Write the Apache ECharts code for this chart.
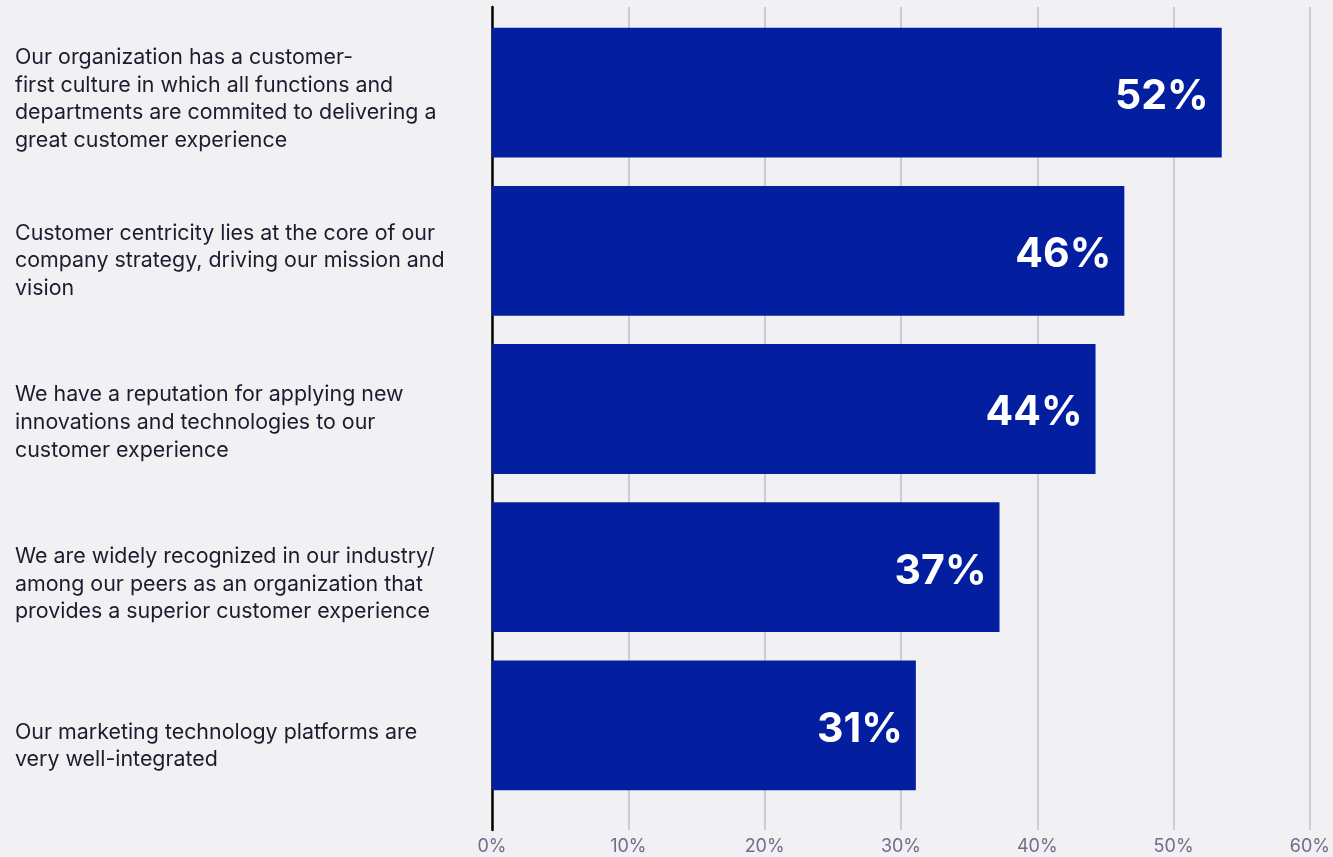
<!DOCTYPE html>
<html>
<head>
<meta charset="utf-8">
<style>
html,body{margin:0;padding:0;background:#f1f1f4;}
#chart{width:1333px;height:857px;}
</style>
<script src="https://cdn.jsdelivr.net/npm/echarts@6/dist/echarts.min.js"></script>
</head>
<body>
<div id="chart"></div>
<script>
const categories = [
  "Our organization has a customer-\nfirst culture in which all functions and\ndepartments are commited to delivering a\ngreat customer experience",
  "Customer centricity lies at the core of our\ncompany strategy, driving our mission and\nvision",
  "We have a reputation for applying new\ninnovations and technologies to our\ncustomer experience",
  "We are widely recognized in our industry/\namong our peers as an organization that\nprovides a superior customer experience",
  "Our marketing technology platforms are\nvery well-integrated"
];
const values = [53.2, 46.1, 44.0, 37.0, 30.9];
const valueLabels = ["52%", "46%", "44%", "37%", "31%"];
const xTicks = [0, 10, 20, 30, 40, 50, 60];

const FONT = "Inter, 'Open Sans', sans-serif";
const chart = echarts.init(document.getElementById('chart'), null, {renderer: 'canvas'});
chart.setOption({
  backgroundColor: '#f1f1f4',
  animation: false,
  grid: [
    {left: 492, right: 18, top: 7, bottom: 27},
    {left: 492, right: 18, top: 13.4, bottom: 52.4},
    {left: 492, right: 18, top: 18.2, bottom: 30}
  ],
  xAxis: [
    {
      gridIndex: 0, type: 'value', min: xTicks[0], max: xTicks[xTicks.length - 1], interval: 10,
      axisLine: {show: false}, axisTick: {show: false},
      splitLine: {show: true, lineStyle: {color: '#bebecb', width: 1.5}},
      axisLabel: {formatter: '{value}%', color: '#6e6e88', fontSize: 18, fontFamily: FONT, margin: 8}
    },
    {gridIndex: 1, type: 'value', min: 0, max: 60, show: false},
    {gridIndex: 2, type: 'value', min: 0, max: 60, show: false}
  ],
  yAxis: [
    {
      gridIndex: 0, type: 'category', inverse: true, data: categories,
      axisLine: {show: true, onZero: false, lineStyle: {color: '#000', width: 2.5}},
      axisTick: {show: false}, axisLabel: {show: false}
    },
    {gridIndex: 1, type: 'category', inverse: true, data: categories, show: false},
    {
      gridIndex: 2, type: 'category', inverse: true, data: categories,
      axisLine: {show: false}, axisTick: {show: false},
      axisLabel: {align: 'left', margin: 477, color: '#1c1c2e', fontSize: 21.4, lineHeight: 27.7, fontFamily: FONT}
    }
  ],
  series: [{
    type: 'bar', xAxisIndex: 1, yAxisIndex: 1,
    data: values,
    barCategoryGap: '18%',
    itemStyle: {color: '#031fa0'},
    label: {
      show: true, position: 'insideRight', distance: 13, offset: [0, 4],
      formatter: p => valueLabels[p.dataIndex],
      color: '#ffffff', fontSize: 41, fontWeight: 'bold', fontFamily: FONT
    }
  }]
});
</script>
</body>
</html>
